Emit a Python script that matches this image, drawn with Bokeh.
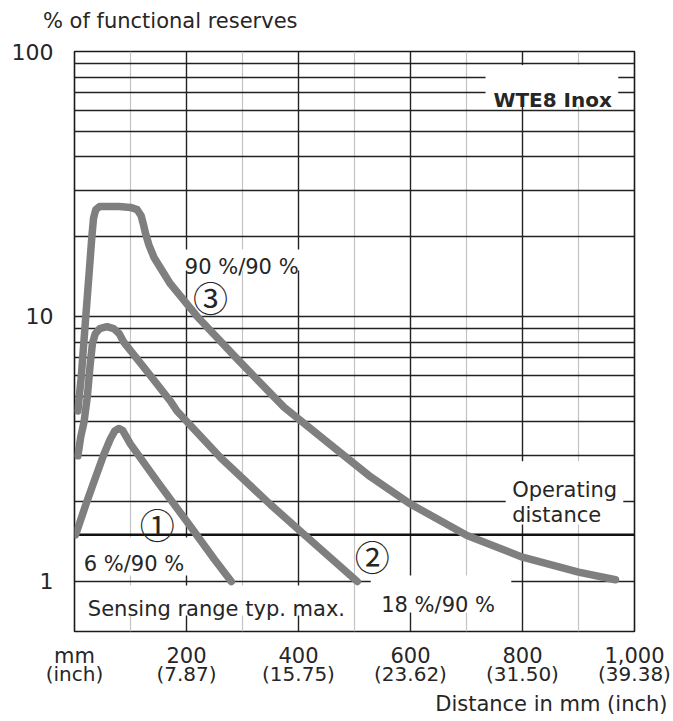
from bokeh.plotting import figure
from bokeh.models import (Range1d, LogAxis, LinearAxis, FixedTicker, Grid, Span,
                          Label, BoxAnnotation, Title)
from bokeh.embed import file_html
from bokeh.resources import INLINE

# ---------------- data (distance in mm, % of functional reserve) ----------------
c1_x = [2, 22, 37, 52, 64, 72, 79, 86, 100, 150, 200, 250, 280]
c1_y = [1.5, 2.0, 2.45, 3.0, 3.45, 3.7, 3.78, 3.72, 3.3, 2.35, 1.69, 1.21, 1.0]

c2_x = [6, 11, 17, 23, 28, 32, 37, 45, 58, 70, 80, 88, 135, 171, 183, 261, 350, 409, 505]
c2_y = [2.98, 3.5, 4.0, 5.0, 6.6, 7.9, 8.6, 9.0, 9.15, 9.0, 8.6, 8.0, 6.0, 4.8, 4.4, 2.93, 1.95, 1.51, 1.0]

c3_x = [6, 12, 20, 26, 31, 34, 38, 45, 80, 100, 112, 119, 123, 127, 133, 142, 171, 219,
        290, 374, 470, 529, 600, 701, 800, 900, 966]
c3_y = [4.4, 5.9, 9.9, 14.5, 20, 23.5, 25.3, 26, 26, 25.8, 25.3, 24, 22.3, 20.5, 18.6, 16.7, 13.3, 10,
        6.93, 4.55, 3.12, 2.48, 1.96, 1.49, 1.235, 1.084, 1.015]

operating_level = 1.5

x_ticks = [0, 200, 400, 600, 800, 1000]
x_labels_mm = ["mm", "200", "400", "600", "800", "1,000"]
x_labels_inch = ["(inch)", "(7.87)", "(15.75)", "(23.62)", "(31.50)", "(39.38)"]
y_ticks = [1, 10, 100]
y_labels = ["1", "10", "100"]
y_grid = [1, 2, 3, 4, 5, 6, 7, 8, 9, 10, 20, 30, 40, 50, 60, 70, 80, 90]
x_grid_major = [200, 400, 600, 800]
x_grid_minor = [100, 300, 500, 700, 900]
y_title = "% of functional reserves"
x_title = "Distance in mm (inch)"

FONT = "DejaVu Sans"
TXT = "#262626"
CURVE = "#7f7f7f"

p = figure(width=673, height=721, x_range=Range1d(0, 1000), y_range=Range1d(0.6475, 100),
           y_axis_type="log", x_axis_location=None, y_axis_location=None,
           toolbar_location=None, output_backend="svg",
           min_border_left=74, min_border_right=39, min_border_top=51, min_border_bottom=90)
p.outline_line_color = "#1a1a1a"
p.outline_line_width = 1.6
p.background_fill_color = "white"
p.border_fill_color = "white"
p.title.visible = False
p.center = [c for c in p.center if not isinstance(c, Grid)]

# grids
g_minor = Grid(dimension=0, ticker=FixedTicker(ticks=x_grid_minor),
               grid_line_color="#c4c4c4", grid_line_width=1.2)
g_major = Grid(dimension=0, ticker=FixedTicker(ticks=x_grid_major),
               grid_line_color="#222222", grid_line_width=1.4)
g_y = Grid(dimension=1, ticker=FixedTicker(ticks=y_grid),
           grid_line_color="#222222", grid_line_width=1.4)
for g in (g_minor, g_major, g_y):
    p.add_layout(g)

# white boxes behind the labels (hide grid lines)
boxes = [
    (734, 971, 89, 62.0),      # WTE8 Inox
    (770, 980, 2.84, 1.64),    # Operating distance
    (529, 780, 1.053, 0.764),  # 18 %/90 %
    (11, 489, 0.966, 0.744),   # Sensing range
    (11, 211, 1.466, 1.053),   # 6 %/90 %
    (196, 409, 17.9, 14.9),    # 90 %/90 %
]
for l, r, t, b in boxes:
    p.add_layout(BoxAnnotation(left=l, right=r, top=t, bottom=b, fill_color="white",
                               fill_alpha=1, line_color=None, level="underlay"))

op = Span(location=operating_level, dimension="width", line_color="#111111",
          line_width=2.6, level="underlay")
p.add_layout(op)

# curves
for xs, ys in ((c1_x, c1_y), (c2_x, c2_y), (c3_x, c3_y)):
    p.line(xs, ys, line_color=CURVE, line_width=7.5, line_cap="round", line_join="round")

# axes
AX = dict(axis_line_color=None, major_tick_line_color=None, minor_tick_line_color=None,
          major_tick_out=0, major_tick_in=0, minor_tick_out=0,
          major_label_text_font=FONT, major_label_text_color=TXT)

yax = LogAxis(ticker=FixedTicker(ticks=y_ticks),
              major_label_overrides={t: s for t, s in zip(y_ticks, y_labels)},
              major_label_standoff=21, major_label_text_font_size="22px", **AX)
p.add_layout(yax, "left")

# title of the value axis, set above the top-left corner of the frame
title_pos = 171
tax = LinearAxis(ticker=FixedTicker(ticks=[title_pos]),
                 major_label_overrides={title_pos: y_title},
                 major_label_standoff=19, major_label_text_font_size="21px", **AX)
p.add_layout(tax, "above")

xax1 = LinearAxis(ticker=FixedTicker(ticks=x_ticks),
                  major_label_overrides={t: s for t, s in zip(x_ticks, x_labels_mm)},
                  major_label_standoff=12, major_label_text_font_size="21px", **AX)
xax2 = LinearAxis(ticker=FixedTicker(ticks=x_ticks),
                  major_label_overrides={t: s for t, s in zip(x_ticks, x_labels_inch)},
                  major_label_standoff=-9, major_label_text_font_size="20px", **AX)
p.add_layout(xax1, "below")
p.add_layout(xax2, "below")

xtitle = Title(text=x_title, align="right", offset=-33, standoff=3,
               text_font=FONT, text_font_size="21px", text_font_style="normal",
               text_color=TXT)
p.add_layout(xtitle, "below")


def lab(x, y, text, size="21px", align="left", baseline="alphabetic", style="normal",
        font=FONT):
    p.add_layout(Label(x=x, y=y, text=text, text_font=font, text_font_size=size,
                       text_color=TXT, text_align=align, text_baseline=baseline,
                       text_font_style=style))


lab(748, 65.7, "WTE8 Inox", size="20px", style="bold")
lab(781.6, 2.205, "Operating")
lab(781.6, 1.775, "distance")
lab(547.7, 0.812, "18 %/90 %")
lab(23.8, 0.789, "Sensing range typ. max.")
lab(16.6, 1.166, "6 %/90 %")
lab(197, 15.44, "90 %/90 %")
CJK = "Noto Sans CJK JP"
lab(147.7, 1.66, "\u2460", size="35px", align="center", baseline="middle", font=CJK)
lab(531.6, 1.254, "\u2461", size="35px", align="center", baseline="middle", font=CJK)
lab(242.9, 11.9, "\u2462", size="35px", align="center", baseline="middle", font=CJK)

open("out.html", "w").write(file_html(p, INLINE))
